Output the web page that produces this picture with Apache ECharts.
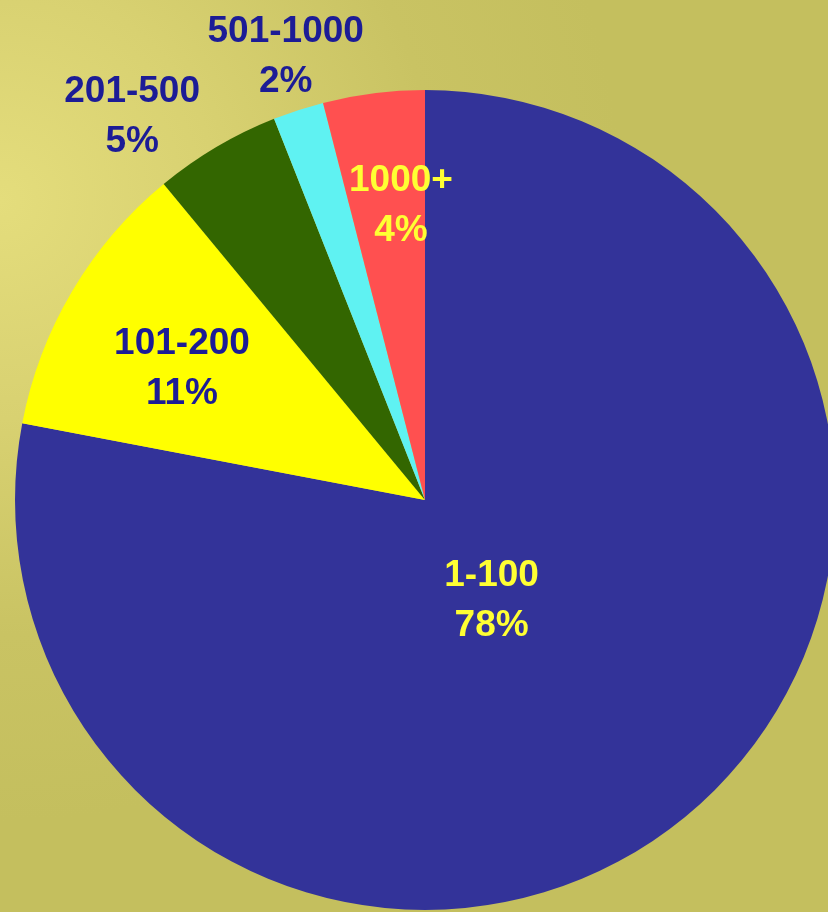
<!DOCTYPE html>
<html>
<head>
<meta charset="utf-8">
<script src="https://cdn.jsdelivr.net/npm/echarts@6/dist/echarts.min.js"></script>
<style>
  html, body { margin: 0; padding: 0; }
  #chart { width: 828px; height: 912px; }
</style>
</head>
<body>
<div id="chart"></div>
<script>
// Share of items by size band (percent)
const categories = ['1-100', '101-200', '201-500', '501-1000', '1000+'];
const shares = [78, 11, 5, 2, 4];

// Slice fills and label colours, in category order
const sliceColors = ['#333399', '#ffff00', '#336600', '#5ff2f2', '#ff5050'];
const labelColors = ['#ffff33', '#1c1c96', '#1c1c96', '#1c1c96', '#ffff33'];

// Label nudges from the default inside anchor (px)
const labelShift = [
  [-66, -59],
  [-64, -25],
  [-187, -204],
  [-75, -245],
  [2, -88]
];

const chart = echarts.init(document.getElementById('chart'), null, { renderer: 'canvas' });

chart.setOption({
  animation: false,
  backgroundColor: {
    type: 'radial', x: 0, y: 0.22, r: 0.75,
    colorStops: [
      { offset: 0, color: '#e4dd7c' },
      { offset: 0.35, color: '#d8d171' },
      { offset: 0.7, color: '#c9c363' },
      { offset: 1, color: '#c4bf5e' }
    ]
  },
  series: [{
    type: 'pie',
    center: [425, 500],
    radius: [0, 410],
    startAngle: 90,
    clockwise: true,
    avoidLabelOverlap: false,
    labelLine: { show: false },
    label: {
      show: true,
      position: 'inside',
      fontFamily: 'Liberation Sans, Arial, sans-serif',
      fontWeight: 'bold',
      fontSize: 37,
      lineHeight: 50,
      align: 'center',
      formatter: p => p.name + '\n' + p.value + '%'
    },
    labelLayout: params => ({
      dx: labelShift[params.dataIndex][0],
      dy: labelShift[params.dataIndex][1]
    }),
    data: categories.map((name, i) => ({
      name: name,
      value: shares[i],
      itemStyle: { color: sliceColors[i] },
      label: { color: labelColors[i] }
    }))
  }]
});
</script>
</body>
</html>
